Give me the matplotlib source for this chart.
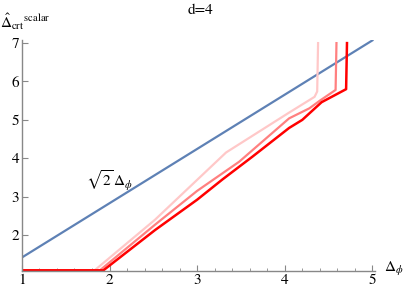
import numpy as np
import matplotlib
matplotlib.use("Agg")
import matplotlib.pyplot as plt
from matplotlib.ticker import MultipleLocator

plt.rcParams['font.family'] = ['STIXGeneral', 'DejaVu Serif']
plt.rcParams['mathtext.fontset'] = 'stix'

# 数据
light_x = [1.0, 1.83, 2.52, 3.33, 4.05, 4.34, 4.37, 4.38]
light_y = [1.08, 1.08, 2.40, 4.15, 5.19, 5.60, 5.74, 7.0]

mid_x = [1.0, 1.89, 2.52, 3.0, 3.48, 4.05, 4.28, 4.40, 4.58, 4.59]
mid_y = [1.08, 1.08, 2.27, 3.15, 3.91, 5.04, 5.30, 5.50, 5.78, 7.0]

dark_x = [1.0, 1.93, 2.52, 3.0, 3.29, 3.63, 4.05, 4.20, 4.42, 4.70, 4.71]
dark_y = [1.08, 1.08, 2.13, 2.92, 3.45, 4.04, 4.79, 5.00, 5.46, 5.80, 7.0]

line_x = np.array([1.0, 5.0])
line_y = np.sqrt(2) * line_x

fig = plt.figure(figsize=(4.05, 2.88), dpi=100)
ax = fig.add_axes([0.054, 0.060, 0.872, 0.801])

ax.plot(line_x, line_y, color='#5E81B5', lw=1.6)
ax.plot(light_x, light_y, color='#FFC8C8', lw=1.6)
ax.plot(mid_x, mid_y, color='#FF8080', lw=1.6)
ax.plot(dark_x, dark_y, color='#FF0000', lw=1.8)

ax.set_xlim(1, 5.03)
ax.set_ylim(1.07, 7.08)

for s in ['top', 'right']:
    ax.spines[s].set_visible(False)
for s in ['left', 'bottom']:
    ax.spines[s].set_color('#888888')
    ax.spines[s].set_linewidth(1.0)

ax.xaxis.set_major_locator(MultipleLocator(1))
ax.xaxis.set_minor_locator(MultipleLocator(0.2))
ax.set_yticks([2, 3, 4, 5, 6, 7])
ax.tick_params(axis='both', which='major', direction='in', length=4, width=0.8,
               color='#888888', labelsize=11, pad=2)
ax.tick_params(axis='x', which='minor', direction='in', length=2.5, width=0.6,
               color='#888888')

ax.text(2.0, 3.43, r'$\sqrt{2}\,\Delta_\phi$', fontsize=11, ha='center', va='center')

fig.text(0.495, 0.965, 'd=4', ha='center', va='center', fontsize=11)
fig.text(0.0, 0.925, r'$\hat{\Delta}_{\mathrm{crt}}{}^{\mathrm{scalar}}$',
         ha='left', va='center', fontsize=11)
fig.text(0.948, 0.065, r'$\Delta_\phi$', ha='left', va='center', fontsize=11)

plt.savefig('out.png', dpi=100)
